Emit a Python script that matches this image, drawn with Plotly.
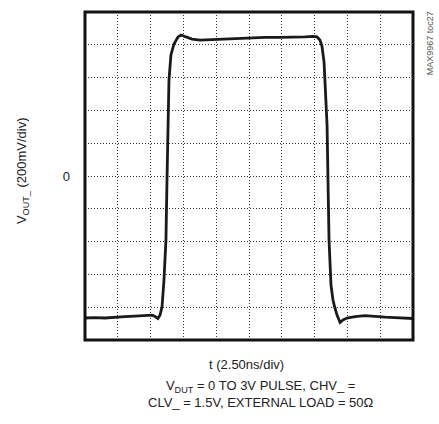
import plotly.graph_objects as go

# time (ns) and output voltage (mV)
t_ns = [0.00, 0.76, 1.52, 2.29, 3.05, 3.81, 4.57, 5.11, 5.34, 5.56, 5.72, 5.87, 6.02,
        6.17, 6.25, 6.33, 6.40, 6.55, 6.78, 7.09, 7.32, 7.70, 8.16, 8.77, 9.53,
        10.29, 11.43, 12.58, 13.72, 14.86, 16.01, 16.77, 17.38, 17.68, 17.91,
        18.06, 18.22, 18.29, 18.37, 18.45, 18.52, 18.60, 18.75, 18.90, 19.05,
        19.21, 19.44, 19.66, 19.97, 20.58, 21.34, 22.10, 22.87, 23.63, 24.39, 25.00]
v_mv = [-866, -863, -866, -860, -857, -854, -851, -848, -857, -869, -848, -799, -634,
        -390, -24, 341, 585, 738, 805, 848, 860, 848, 835, 829, 832,
        835, 838, 841, 845, 845, 845, 848, 851, 848, 829,
        793, 695, 585, 463, 311, -24, -390, -665, -756, -805,
        -848, -893, -878, -866, -857, -851, -857, -860, -863, -866, -869]

x_grid = [0, 2.5, 5, 7.5, 10, 12.5, 15, 17.5, 20, 22.5, 25]
y_grid = [-1000, -800, -600, -400, -200, 0, 200, 400, 600, 800, 1000]
y_ticktext = ["", "", "", "", "", "0", "", "", "", "", ""]

FONT = "Liberation Sans, Arial, sans-serif"

fig = go.Figure()
fig.add_trace(go.Scatter(x=t_ns, y=v_mv, mode="lines",
                         line=dict(color="#1a1a1a", width=2.8), showlegend=False,
                         hoverinfo="skip"))

fig.update_layout(
    width=439, height=424,
    margin=dict(l=85, r=26, t=12, b=84),
    paper_bgcolor="white", plot_bgcolor="white",
    font=dict(family=FONT, size=13, color="#222"),
    xaxis=dict(range=[0, 25], tickvals=x_grid, showticklabels=False, ticks="",
               showgrid=True, gridcolor="#333", gridwidth=1, griddash="1px,2px",
               zeroline=False, showline=False, fixedrange=True),
    yaxis=dict(range=[-1000, 1000], tickvals=y_grid, ticktext=y_ticktext,
               ticks="", showgrid=True, gridcolor="#333", gridwidth=1,
               griddash="1px,2px", zeroline=False, showline=False,
               ticklabelstandoff=14, tickfont=dict(size=13, family=FONT),
               fixedrange=True),
    shapes=[dict(type="rect", xref="paper", yref="paper", x0=0, x1=1, y0=0, y1=1,
                 line=dict(color="#111", width=3), layer="above")],
    annotations=[
        dict(text="V<sub>OUT_</sub> (200mV/div)", xref="paper", yref="paper",
             x=-0.192, y=0.515, textangle=-90, showarrow=False,
             font=dict(size=13, family=FONT), xanchor="center", yanchor="middle"),
        dict(text="t (2.50ns/div)", xref="paper", yref="paper",
             x=0.491, y=-0.075, showarrow=False, xanchor="center", yanchor="middle",
             font=dict(size=13, family=FONT)),
        dict(text="V<sub>DUT</sub> = 0 TO 3V PULSE, CHV_ =<br>CLV_ = 1.5V, EXTERNAL LOAD = 50Ω",
             xref="paper", yref="paper", x=0.537, y=-0.165, showarrow=False,
             xanchor="center", yanchor="middle", align="center",
             font=dict(size=13, family=FONT)),
        dict(text="MAX9967 toc27", xref="paper", yref="paper",
             x=1.052, y=0.905, textangle=-90, showarrow=False,
             xanchor="center", yanchor="middle",
             font=dict(size=9, family=FONT, color="#555")),
    ],
)

fig.write_html("out.html", config={"displayModeBar": False},
               post_script="document.body.style.margin='0';document.body.style.padding='0';")
